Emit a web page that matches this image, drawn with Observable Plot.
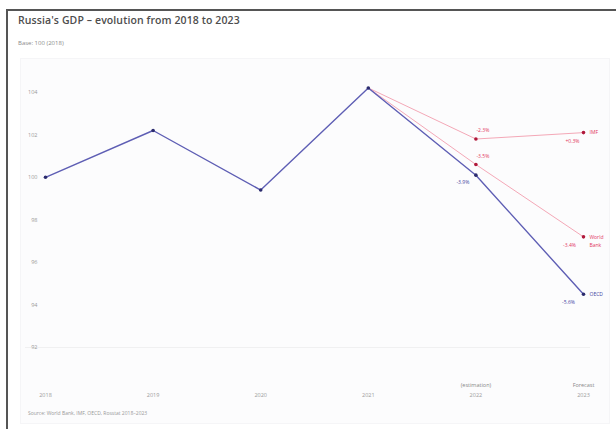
<!DOCTYPE html>
<html>
<head>
<meta charset="utf-8">
<script src="https://cdn.jsdelivr.net/npm/d3@7"></script>
<script src="https://cdn.jsdelivr.net/npm/@observablehq/plot@0.6"></script>
<style>
  html, body { margin: 0; padding: 0; background: #fff; }
  body { width: 616px; height: 429px; position: relative; overflow: hidden; font-family: "Open Sans", Lato, sans-serif; }
  #frame { position: absolute; left: 6px; top: 9px; width: 610px; height: 420px; border-top: 2px solid #555; border-left: 2px solid #555; box-sizing: border-box; }
  #panel { position: absolute; left: 20px; top: 58px; width: 590px; height: 366px; background: #fcfcfd; border: 1px solid #f5f5f7; box-sizing: border-box; }
  #chart { position: absolute; left: 0; top: 0; }
  #title { position: absolute; left: 18px; top: 13px; font-size: 10.5px; font-weight: 600; color: #4d4d4d; letter-spacing: 0.1px; }
  #subtitle { position: absolute; left: 18px; top: 39px; font-size: 6px; color: #8a8a8a; }
  #source { position: absolute; left: 28px; top: 410px; font-size: 5px; color: #999; }
</style>
</head>
<body>
<div id="frame"></div>
<div id="panel"></div>
<div id="chart"></div>
<div id="title">Russia's GDP – evolution from 2018 to 2023</div>
<div id="subtitle">Base: 100 (2018)</div>
<div id="source">Source: World Bank, IMF, OECD, Rosstat 2018–2023</div>
<script>
// GDP index, base 100 in 2018: history, 2022 estimate and 2023 forecast
const years = [2018, 2019, 2020, 2021, 2022, 2023];
const gdpIndex = [100, 102.2, 99.4, 104.2, 100.1, 94.5];

// Alternative scenarios starting from 2021
const scenarioYears = [2021, 2022, 2023];
const scenarioA = [104.2, 101.8, 102.1];
const scenarioB = [104.2, 100.6, 97.2];

// End-of-line names and axis ticks
const seriesNames = {main: "OECD", a: "IMF", b: "World\nBank"};
const yTicks = [92, 94, 96, 98, 100, 102, 104];
const periodNotes = [{year: 2022, note: "(estimation)"}, {year: 2023, note: "Forecast"}];

const blue = "#5e5eb4";
const blueDot = "#2b2b6e";
const blueText = "#4444a2";
const pink = "#f4a8b7";
const redDot = "#b0183a";
const redText = "#e2365e";

const main = years.map((year, i) => ({year, value: gdpIndex[i]}));
const scenA = scenarioYears.map((year, i) => ({year, value: scenarioA[i]}));
const scenB = scenarioYears.map((year, i) => ({year, value: scenarioB[i]}));

// Year-on-year change, shown next to the estimate and forecast points
function withChange(rows) {
  return rows.map((d, i) => i === 0 ? null : {...d, change: (d.value / rows[i - 1].value - 1) * 100}).filter(Boolean);
}
const fmt = (v) => (v > 0 ? "+" : "") + v.toFixed(1) + "%";

const mainChanges = withChange(main).filter(d => d.year >= 2022);
const aChanges = withChange(scenA);
const bChanges = withChange(scenB);

const last = (rows) => rows[rows.length - 1];

const plot = Plot.plot({
  width: 616,
  height: 429,
  marginLeft: 25,
  marginRight: 26,
  marginTop: 91.7,
  marginBottom: 82,
  style: {fontFamily: "'Open Sans', Lato, sans-serif", background: "transparent", overflow: "visible"},
  x: {domain: [2018, 2023], insetLeft: 20, insetRight: 7},
  y: {domain: [92, 104]},
  marks: [
    Plot.ruleY([92], {stroke: "#f0f0f1", strokeWidth: 1}),
    Plot.axisY({ticks: yTicks, tickSize: 0, tickPadding: 0, dx: 12, fontSize: 5.5, color: "#9a9a9a", label: null}),
    Plot.axisX({ticks: years, tickFormat: d => String(d), tickSize: 0, tickPadding: 46, fontSize: 5.5, color: "#9a9a9a", label: null}),
    Plot.text(periodNotes, {x: "year", y: () => 92, text: "note", dy: 38, fontSize: 5.5, fill: "#888"}),

    // scenarios
    Plot.line(scenA, {x: "year", y: "value", stroke: pink, strokeWidth: 1}),
    Plot.line(scenB, {x: "year", y: "value", stroke: pink, strokeWidth: 1}),
    // main series
    Plot.line(main, {x: "year", y: "value", stroke: blue, strokeWidth: 1.4}),

    Plot.dot(scenA.slice(1), {x: "year", y: "value", r: 1.8, fill: redDot}),
    Plot.dot(scenB.slice(1), {x: "year", y: "value", r: 1.8, fill: redDot}),
    Plot.dot(main, {x: "year", y: "value", r: 1.8, fill: blueDot}),

    // change labels, 2022
    Plot.text(aChanges.filter(d => d.year === 2022), {x: "year", y: "value", text: d => fmt(d.change), dx: 7, dy: -9, fontSize: 5, fill: redText}),
    Plot.text(bChanges.filter(d => d.year === 2022), {x: "year", y: "value", text: d => fmt(d.change), dx: 7, dy: -8, fontSize: 5, fill: redText}),
    Plot.text(mainChanges.filter(d => d.year === 2022), {x: "year", y: "value", text: d => fmt(d.change), dx: -13, dy: 7, fontSize: 5, fill: blueText}),

    // change labels, 2023
    Plot.text(aChanges.filter(d => d.year === 2023), {x: "year", y: "value", text: d => fmt(d.change), dx: -11, dy: 9, fontSize: 5, fill: redText}),
    Plot.text(bChanges.filter(d => d.year === 2023), {x: "year", y: "value", text: d => fmt(d.change), dx: -14, dy: 9, fontSize: 5, fill: redText}),
    Plot.text(mainChanges.filter(d => d.year === 2023), {x: "year", y: "value", text: d => fmt(d.change), dx: -15, dy: 8, fontSize: 5, fill: blueText}),

    // series names at the line ends
    Plot.text([last(scenA)], {x: "year", y: "value", text: () => seriesNames.a, dx: 6, textAnchor: "start", fontSize: 5, fill: redText}),
    Plot.text([last(scenB)], {x: "year", y: "value", text: () => seriesNames.b, dx: 6, dy: 4, textAnchor: "start", fontSize: 5, fill: redText, lineHeight: 1.6}),
    Plot.text([last(main)], {x: "year", y: "value", text: () => seriesNames.main, dx: 6, textAnchor: "start", fontSize: 5, fill: blueText})
  ]
});
document.getElementById("chart").appendChild(plot);
</script>
</body>
</html>
